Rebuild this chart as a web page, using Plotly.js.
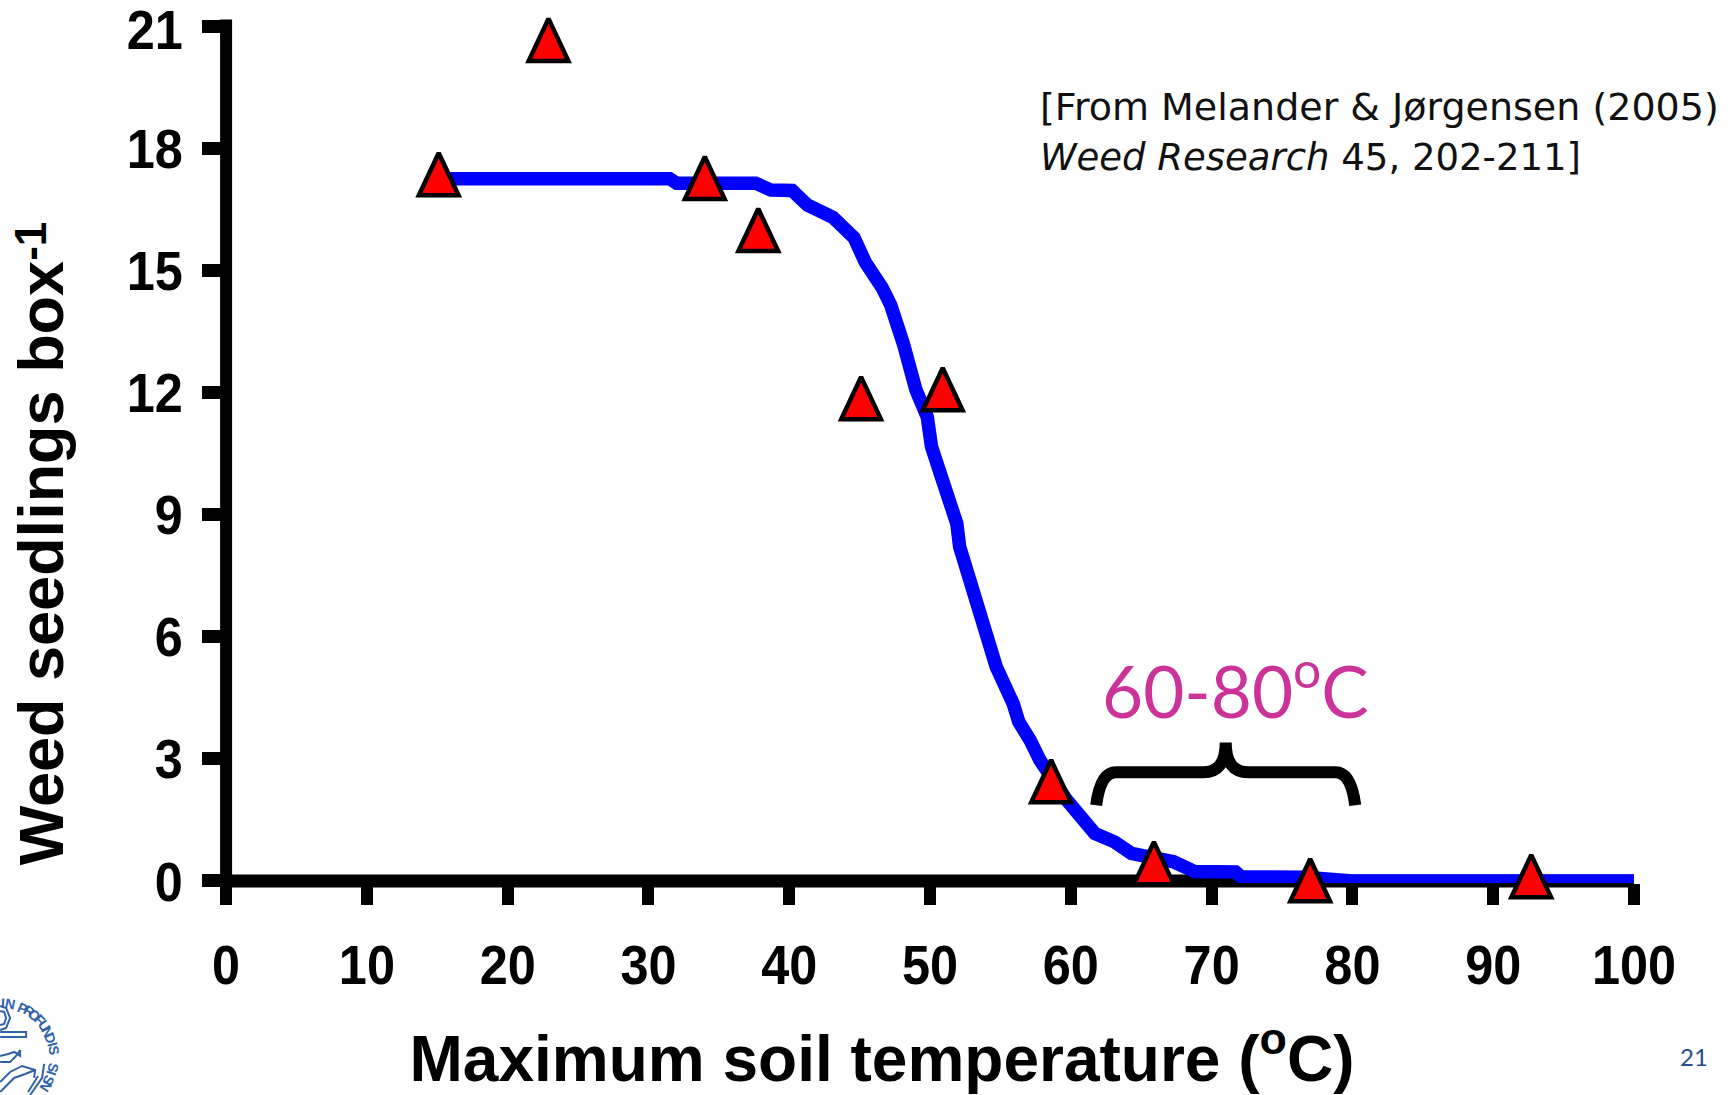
<!DOCTYPE html>
<html><head><meta charset="utf-8">
<script src="https://cdn.plot.ly/plotly-3.0.1.min.js"></script>
<style>html,body{margin:0;padding:0;background:#fff;overflow:hidden}#c{width:1732px;height:1095px}</style>
</head><body><div id="c"></div>
<script>
const pointTemp = [15.1, 22.9, 34.0, 37.8, 45.1, 50.9, 58.6, 65.9, 77.0, 92.7];
const pointSeedlings = [17.36, 20.66, 17.27, 15.99, 11.86, 12.08, 2.45, 0.44, 0.02, 0.12];
const curveTemp = [15.1, 31.5, 32.0, 37.6, 38.7, 40.2, 41.3, 43.1, 44.6, 45.4, 46.6, 47.2, 48.1, 49.0, 49.8, 50.1, 50.8, 51.9, 52.1, 53.2, 53.9, 54.7, 55.9, 56.3, 57.1, 57.8, 59.7, 61.7, 63.1, 64.3, 67.3, 68.8, 71.7, 72.1, 76.6, 80.0, 100.4];
const curveSeedlings = [17.25, 17.25, 17.14, 17.14, 16.97, 16.96, 16.6, 16.3, 15.8, 15.2, 14.57, 14.15, 13.2, 12.06, 11.4, 10.67, 9.93, 8.78, 8.21, 6.98, 6.33, 5.26, 4.36, 3.91, 3.46, 2.97, 1.99, 1.17, 0.96, 0.68, 0.47, 0.23, 0.22, 0.1, 0.09, 0.0, 0.0];
const xTicks = [0,10,20,30,40,50,60,70,80,90,100];
const yTicks = [0,3,6,9,12,15,18,21];
const sealLetters = ['I','N','P','R','O','F','U','N','D','I','S','S','I','S','N'];
const sealAngles = [3,11,24,32,39,47,55,62,69,76,83,101,108,115,123];
const font = '"Liberation Sans",Arial,sans-serif';

// plot box in page pixels
const L = 223.9, R = 1634, T = 26, B = 883.04;
const px = v => (v-L)/(R-L), py = v => (B-v)/(B-T);
const P = (pairs) => pairs.map(([c,x,y])=> (c+px(x).toFixed(5)+','+py(y).toFixed(5))).join(' ');
const sealBlue = '#2F62A8';
const sealLine = {color:sealBlue,width:2};

const curve = {x:curveTemp,y:curveSeedlings,mode:'lines',line:{color:'#0000ff',width:13.5,shape:'linear'},cliponaxis:false,hoverinfo:'skip',showlegend:false};
const pts = {x:pointTemp,y:pointSeedlings,mode:'markers',cliponaxis:false,showlegend:false,
  marker:{symbol:'triangle-up',size:56.4,color:'#ff0000',line:{color:'#000000',width:4.5}}};

const sealShapes = [
  {d:[['M',0,1011],['L',4,1012],['L',6,1018],['L',4,1024],['L',0,1025]]},
  {d:[['M',0,1006],['L',6,1008],['L',10,1018],['L',6,1028],['L',0,1030]]},
  {d:[['M',0,1032],['L',26,1032],['L',26,1037],['L',0,1037]]},
  {d:[['M',0,1056],['L',8,1054],['L',14,1052],['L',20,1056],['L',20,1050]]},
  {d:[['M',0,1062],['L',10,1062],['L',16,1056],['L',20,1050]]},
  {d:[['M',0,1082],['L',10,1072],['L',22,1066],['L',35,1070],['L',34,1078]]},
  {d:[['M',0,1092],['L',14,1078],['L',25,1074],['L',35,1070]]},
  {d:[['M',44,1064],['L',42,1078],['L',30,1095]]},
  {d:[['M',38,1076],['L',28,1092]]}
].map(s=>({type:'path',xref:'paper',yref:'paper',layer:'above',line:sealLine,path:P(s.d)}));

const sealText = sealLetters.map((ch,i)=>{
  const a = sealAngles[i]*Math.PI/180;
  return {xref:'paper',yref:'paper',x:px(54*Math.sin(a)),y:py(1057-54*Math.cos(a)),xanchor:'center',yanchor:'middle',
    showarrow:false,text:ch,textangle:sealAngles[i],font:{family:font,size:14,color:sealBlue,weight:700}};
});

const layout = {
  width:1732,height:1095,paper_bgcolor:'#fff',plot_bgcolor:'#fff',showlegend:false,
  margin:{l:L,r:1732-R,t:T,b:1095-B,pad:0},
  xaxis:{range:[-0.15,100],tickmode:'array',tickvals:xTicks,ticktext:xTicks.map(String),showgrid:false,
    zeroline:false,showline:false,layer:'below traces',ticks:'outside',ticklen:21,tickwidth:12,tickcolor:'#000',
    ticklabelstandoff:12,ticklabeloverflow:'allow',
    tickfont:{family:font,size:56,color:'#000',weight:700},
    title:{text:'Maximum soil temperature (<sup>o</sup>C)',standoff:51,font:{family:font,size:64,color:'#000',weight:700}}},
  yaxis:{range:[-0.05,21],tickmode:'array',tickvals:yTicks,ticktext:yTicks.map(String),showgrid:false,
    zeroline:false,showline:false,layer:'below traces',ticks:'outside',ticklen:21,tickwidth:13,tickcolor:'#000',
    ticklabelstandoff:8,ticklabeloverflow:'allow',
    tickfont:{family:font,size:56,color:'#000',weight:700},
    title:{text:'Weed seedlings box<sup>-1</sup>',standoff:48,font:{family:font,size:63,color:'#000',weight:700}}},
  shapes:[
    {type:'line',xref:'paper',yref:'paper',layer:'below',x0:px(226),x1:px(1634),y0:py(881),y1:py(881),line:{color:'#000',width:13}},
    {type:'line',xref:'paper',yref:'paper',layer:'below',x0:px(226),x1:px(226),y0:py(884),y1:py(19.5),line:{color:'#000',width:12}},
    {type:'path',xref:'x',yref:'y',layer:'above',line:{color:'#000',width:12},
    path:'M61.8,1.86 Q62.1,2.67 63.2,2.67 L69.4,2.67 Q71,2.67 71,3.4 Q71,2.67 72.6,2.67 L78.8,2.67 Q79.9,2.67 80.2,1.86'}
  ].concat(sealShapes),
  annotations:[
    {xref:'paper',yref:'paper',x:px(1038),y:py(107),xanchor:'left',yanchor:'middle',showarrow:false,
     text:'[From Melander &amp; Jørgensen (2005)',font:{family:'"DejaVu Sans"',size:38,color:'#111'}},
    {xref:'paper',yref:'paper',x:px(1038),y:py(158),xanchor:'left',yanchor:'middle',showarrow:false,
     text:'<i>Weed Research</i> 45, 202-211]',font:{family:'"DejaVu Sans"',size:37,color:'#111'}},
    {xref:'paper',yref:'paper',x:px(1235),y:py(686),xanchor:'center',yanchor:'middle',showarrow:false,
     text:'60-80<sup>o</sup>C',font:{family:'Lato',size:71,color:'#CC3399',weight:400}},
    {xref:'paper',yref:'paper',x:px(1694),y:py(1057),xanchor:'center',yanchor:'middle',showarrow:false,
     text:'21',font:{family:'Lato',size:24,color:'#1F4E8C'}}
  ].concat(sealText)
};
Plotly.newPlot('c',[curve,pts],layout,{displayModeBar:false}).then(()=>{
  document.querySelectorAll('.scatterlayer .point').forEach(p=>{
    const t=p.getAttribute('transform')||'';
    p.setAttribute('transform',t+' translate(0,7) scale(0.61,1)');
    p.style.vectorEffect='non-scaling-stroke';
  });
  document.querySelectorAll('.xtick text, .ytick text').forEach(t=>{
    t.setAttribute('textLength',(t.getComputedTextLength()*0.9).toFixed(1));
    t.setAttribute('lengthAdjust','spacingAndGlyphs');
    if(t.textContent==='21') t.setAttribute('transform','translate(0,3) '+(t.getAttribute('transform')||''));
  });
  document.querySelectorAll('.ytitle tspan').forEach(s=>{
    if((s.getAttribute('dy')||'').startsWith('-')) s.setAttribute('dy','-0.4em');
  });
  const shift=(sel,dx,dy)=>{const e=document.querySelector(sel); if(e) e.setAttribute('transform','translate('+dx+','+dy+') '+(e.getAttribute('transform')||''));};
  shift('.xtitle',-47,0);
  shift('.ytitle',-3,89);
});
</script></body></html>
